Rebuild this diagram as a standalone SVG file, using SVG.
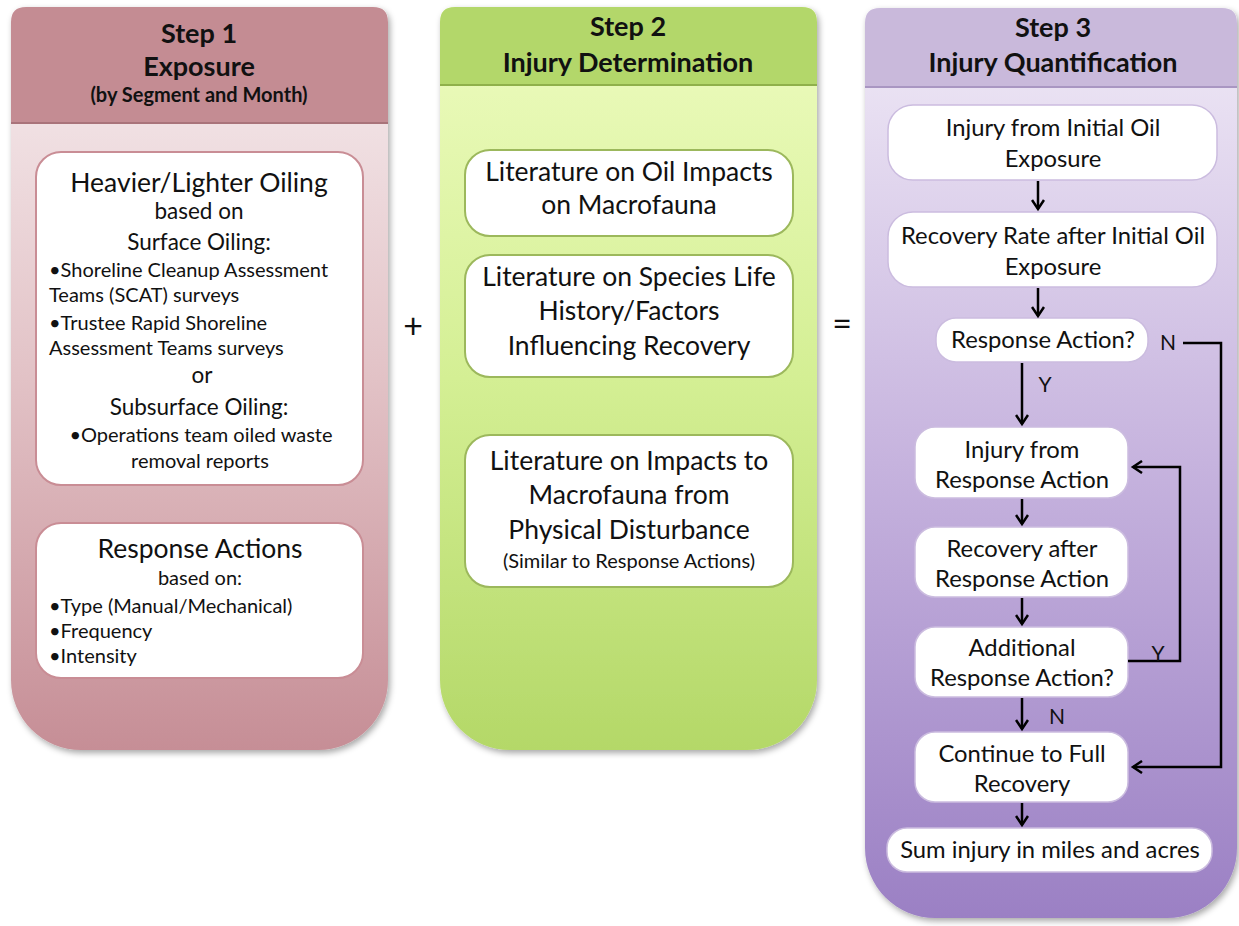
<svg xmlns="http://www.w3.org/2000/svg" width="1239" height="926" viewBox="0 0 1239 926">
<defs>
<style>
text{font-family:Lato,"Open Sans","Liberation Sans",sans-serif;fill:#111;text-anchor:middle}
.h{font-weight:bold;font-size:27px}
.big{font-size:26.5px}
.p3{font-size:23.8px}
.mid{font-size:22.5px}
.sm{font-size:20px}
.lb{font-size:21px}
.l{text-anchor:start}
.b1{fill:#fff;stroke:#c98d95;stroke-width:2}
.b2{fill:#fff;stroke:#9cb85c;stroke-width:2}
.b3{fill:#fff;stroke:#cbbcdf;stroke-width:1.5}
.c{fill:none;stroke:#000;stroke-width:2.5}
</style>
<linearGradient id="g1" x1="0" y1="0" x2="0" y2="1">
<stop offset="0" stop-color="#f7eef0"/><stop offset="0.5" stop-color="#e2c2c6"/><stop offset="1" stop-color="#c68e96"/></linearGradient>
<linearGradient id="g2" x1="0" y1="0" x2="0" y2="1">
<stop offset="0" stop-color="#eefcc0"/><stop offset="0.5" stop-color="#d4ef94"/><stop offset="1" stop-color="#b4d868"/></linearGradient>
<linearGradient id="g3" x1="0" y1="0" x2="0" y2="1">
<stop offset="0" stop-color="#f1ebf7"/><stop offset="0.5" stop-color="#c6b3de"/><stop offset="1" stop-color="#9b80c4"/></linearGradient>
<clipPath id="cp1"><path d="M11,22 Q11,7 26,7 H373 Q388,7 388,22 V680 A70,70 0 0 1 318,750 H81 A70,70 0 0 1 11,680 Z"/></clipPath>
<clipPath id="cp2"><path d="M440,22 Q440,7 455,7 H802 Q817,7 817,22 V680 A70,70 0 0 1 747,750 H510 A70,70 0 0 1 440,680 Z"/></clipPath>
<clipPath id="cp3"><path d="M865,23 Q865,8 880,8 H1222 Q1237,8 1237,23 V848 A70,70 0 0 1 1167,918 H935 A70,70 0 0 1 865,848 Z"/></clipPath>
<filter id="sh" x="-5%" y="-5%" width="110%" height="110%"><feDropShadow dx="2" dy="3" stdDeviation="3" flood-color="#000" flood-opacity="0.35"/></filter>
<marker id="ah" markerWidth="14" markerHeight="14" refX="11" refY="7" orient="auto" markerUnits="userSpaceOnUse"><path d="M2,1 L11,7 L2,13" fill="none" stroke="#000" stroke-width="2.5"/></marker>
</defs>

<g id="panel1">
<path d="M11,22 Q11,7 26,7 H373 Q388,7 388,22 V680 A70,70 0 0 1 318,750 H81 A70,70 0 0 1 11,680 Z" fill="url(#g1)" filter="url(#sh)"/>
<g clip-path="url(#cp1)"><rect x="11" y="7" width="377" height="116" fill="#c48c93"/><line x1="11" y1="123" x2="388" y2="123" stroke="#a9737a" stroke-width="2"/></g>
<text class="h" x="199" y="43">Step 1</text>
<text class="h" x="199" y="76">Exposure</text>
<text x="199" y="102" style="font-weight:bold;font-size:20px">(by Segment and Month)</text>
</g>

<g id="box-oiling">
<rect class="b1" x="36" y="152" width="327" height="333" rx="25"/>
<text class="big" x="199" y="192">Heavier/Lighter Oiling</text>
<text class="mid" x="199" y="219">based on</text>
<text class="mid" x="199" y="250">Surface Oiling:</text>
<text class="sm l" x="49" y="277">•Shoreline Cleanup Assessment</text>
<text class="sm l" x="49" y="302">Teams (SCAT) surveys</text>
<text class="sm l" x="49" y="330">•Trustee Rapid Shoreline</text>
<text class="sm l" x="49" y="355">Assessment Teams surveys</text>
<text class="mid" x="202" y="383">or</text>
<text class="mid" x="199" y="415">Subsurface Oiling:</text>
<text class="sm" x="201" y="442">•Operations team oiled waste</text>
<text class="sm" x="200" y="468">removal reports</text>
</g>

<g id="box-response">
<rect class="b1" x="36" y="523" width="327" height="155" rx="25"/>
<text class="big" x="200" y="558">Response Actions</text>
<text class="sm" x="200" y="585">based on:</text>
<text class="sm l" x="49" y="613">•Type (Manual/Mechanical)</text>
<text class="sm l" x="49" y="638">•Frequency</text>
<text class="sm l" x="49" y="663">•Intensity</text>
</g>

<g id="plus"><text x="413" y="338" style="font-size:34px">+</text></g>

<g id="panel2">
<path d="M440,22 Q440,7 455,7 H802 Q817,7 817,22 V680 A70,70 0 0 1 747,750 H510 A70,70 0 0 1 440,680 Z" fill="url(#g2)" filter="url(#sh)"/>
<g clip-path="url(#cp2)"><rect x="440" y="7" width="377" height="78" fill="#b3d76a"/><line x1="440" y1="85" x2="817" y2="85" stroke="#8fb04a" stroke-width="2"/></g>
<text class="h" x="628" y="36">Step 2</text>
<text class="h" x="628" y="72">Injury Determination</text>
</g>

<g id="lit1">
<rect class="b2" x="465" y="150" width="328" height="86" rx="25"/>
<text class="big" x="629" y="181">Literature on Oil Impacts</text>
<text class="big" x="629" y="214">on Macrofauna</text>
</g>
<g id="lit2">
<rect class="b2" x="465" y="255" width="328" height="122" rx="25"/>
<text class="big" x="629" y="286">Literature on Species Life</text>
<text class="big" x="629" y="320">History/Factors</text>
<text class="big" x="629" y="355">Influencing Recovery</text>
</g>
<g id="lit3">
<rect class="b2" x="465" y="435" width="328" height="152" rx="25"/>
<text class="big" x="629" y="470">Literature on Impacts to</text>
<text class="big" x="629" y="504">Macrofauna from</text>
<text class="big" x="629" y="539">Physical Disturbance</text>
<text x="629" y="568" style="font-size:20px">(Similar to Response Actions)</text>
</g>

<g id="equals"><text x="842" y="336" style="font-size:34px">=</text></g>

<g id="panel3">
<path d="M865,23 Q865,8 880,8 H1222 Q1237,8 1237,23 V848 A70,70 0 0 1 1167,918 H935 A70,70 0 0 1 865,848 Z" fill="url(#g3)" filter="url(#sh)"/>
<g clip-path="url(#cp3)"><rect x="865" y="8" width="372" height="79" fill="#c9b9db"/><line x1="865" y1="87" x2="1237" y2="87" stroke="#a996c2" stroke-width="2"/></g>
<text class="h" x="1053" y="37">Step 3</text>
<text class="h" x="1053" y="72">Injury Quantification</text>
</g>

<g id="n-initial">
<rect class="b3" x="888" y="105" width="329" height="75" rx="25"/>
<text class="p3" x="1053" y="136">Injury from Initial Oil</text>
<text class="p3" x="1053" y="167">Exposure</text>
</g>
<g id="n-recrate">
<rect class="b3" x="888" y="212" width="329" height="75" rx="25"/>
<text class="p3" x="1053" y="244">Recovery Rate after Initial Oil</text>
<text class="p3" x="1053" y="275">Exposure</text>
</g>
<g id="n-resp">
<rect class="b3" x="936" y="318" width="212" height="44" rx="20"/>
<text class="p3" x="1043" y="348">Response Action?</text>
</g>
<g id="n-injresp">
<rect class="b3" x="915" y="427" width="213" height="71" rx="20"/>
<text class="p3" x="1022" y="458">Injury from</text>
<text class="p3" x="1022" y="488">Response Action</text>
</g>
<g id="n-recresp">
<rect class="b3" x="915" y="527" width="213" height="70" rx="20"/>
<text class="p3" x="1022" y="557">Recovery after</text>
<text class="p3" x="1022" y="587">Response Action</text>
</g>
<g id="n-add">
<rect class="b3" x="915" y="627" width="213" height="70" rx="20"/>
<text class="p3" x="1022" y="656">Additional</text>
<text class="p3" x="1022" y="686">Response Action?</text>
</g>
<g id="n-full">
<rect class="b3" x="915" y="732" width="213" height="70" rx="20"/>
<text class="p3" x="1022" y="762">Continue to Full</text>
<text class="p3" x="1022" y="792">Recovery</text>
</g>
<g id="n-sum">
<rect class="b3" x="887" y="828" width="325" height="44" rx="20"/>
<text class="p3" x="1050" y="858">Sum injury in miles and acres</text>
</g>

<g id="connectors">
<line class="c" x1="1038" y1="181" x2="1038" y2="209" marker-end="url(#ah)"/>
<line class="c" x1="1038" y1="288" x2="1038" y2="316" marker-end="url(#ah)"/>
<line class="c" x1="1022" y1="363" x2="1022" y2="424" marker-end="url(#ah)"/>
<line class="c" x1="1022" y1="499" x2="1022" y2="524" marker-end="url(#ah)"/>
<line class="c" x1="1022" y1="598" x2="1022" y2="624" marker-end="url(#ah)"/>
<line class="c" x1="1022" y1="698" x2="1022" y2="729" marker-end="url(#ah)"/>
<line class="c" x1="1022" y1="803" x2="1022" y2="825" marker-end="url(#ah)"/>
<polyline class="c" points="1183,343 1221,343 1221,767 1133,767" marker-end="url(#ah)"/>
<polyline class="c" points="1128,661 1180,661 1180,467 1133,467" marker-end="url(#ah)"/>
<text class="lb" x="1168" y="350">N</text>
<text class="lb" x="1045" y="392">Y</text>
<text class="lb" x="1158" y="661">Y</text>
<text class="lb" x="1057" y="724">N</text>
</g>
</svg>
